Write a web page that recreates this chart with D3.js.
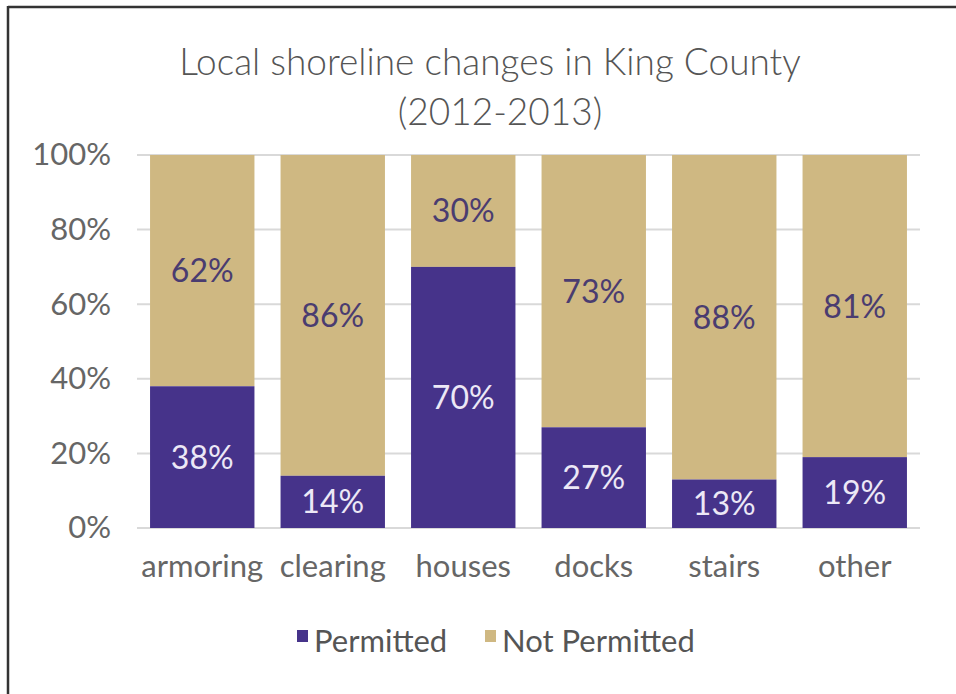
<!DOCTYPE html>
<html>
<head>
<meta charset="utf-8">
<script src="https://cdn.jsdelivr.net/npm/d3@7"></script>
<style>
  body { margin: 0; background: #fff; }
  svg text { font-family: Lato, "DejaVu Sans", sans-serif; }
</style>
</head>
<body>
<svg id="chart"></svg>
<script>
var categories = ["armoring", "clearing", "houses", "docks", "stairs", "other"];
var permitted = [38, 14, 70, 27, 13, 19];
var notPermitted = [62, 86, 30, 73, 88, 81];
var seriesNames = ["Permitted", "Not Permitted"];
var yTicks = [0, 20, 40, 60, 80, 100];

var width = 956;
var height = 694;

var purple = "#46338a";
var tan = "#cfb882";

var svg = d3.select("#chart")
	.attr("width", width)
	.attr("height", height);

// frame (top + left edges visible in the reference)
svg.append("line").attr("x1", 8).attr("x2", width).attr("y1", 7).attr("y2", 7)
	.style("stroke", "#333").style("stroke-width", 2.5);
svg.append("line").attr("x1", 8).attr("x2", 8).attr("y1", 6).attr("y2", height)
	.style("stroke", "#333").style("stroke-width", 2.5);

var x = d3.scaleBand()
	.domain(categories)
	.range([137, 920])
	.paddingInner(0.2)
	.paddingOuter(0.1);

var y = d3.scaleLinear()
	.domain([0, 100])
	.range([528, 155]);

// title
svg.append("text")
	.attr("x", 490).attr("y", 75)
	.attr("text-anchor", "middle")
	.style("font-size", "37px").style("font-weight", 300).style("fill", "#555")
	.text("Local shoreline changes in King County");
svg.append("text")
	.attr("x", 500).attr("y", 125)
	.attr("text-anchor", "middle")
	.style("font-size", "37px").style("font-weight", 300).style("fill", "#555")
	.text("(2012-2013)");

// gridlines
svg.selectAll("line.grid")
	.data(yTicks)
	.enter()
	.append("line")
	.attr("class", "grid")
	.attr("x1", 137).attr("x2", 920)
	.attr("y1", function(d) { return y(d); })
	.attr("y2", function(d) { return y(d); })
	.style("stroke", "#d9d9d9").style("stroke-width", 2);

// y axis labels
var yAxis = d3.axisLeft(y).tickValues(yTicks).tickSize(0).tickPadding(0)
	.tickFormat(function(d) { return d + "%"; });
svg.append("g")
	.attr("transform", "translate(111,0)")
	.call(yAxis)
	.call(function(g) { g.select(".domain").remove(); })
	.selectAll("text")
	.style("font-size", "31px").style("fill", "#666")
	.style("font-family", "Lato, 'DejaVu Sans', sans-serif");

// x axis labels
var xAxis = d3.axisBottom(x).tickSize(0).tickPadding(0);
svg.append("g")
	.attr("transform", "translate(0,555)")
	.call(xAxis)
	.call(function(g) { g.select(".domain").remove(); })
	.selectAll("text")
	.style("font-size", "31px").style("fill", "#666")
	.style("font-family", "Lato, 'DejaVu Sans', sans-serif");

var rows = categories.map(function(c, i) {
	return { cat: c, p: permitted[i], n: notPermitted[i] };
});

// Not permitted (top part)
svg.selectAll("rect.np")
	.data(rows)
	.enter()
	.append("rect")
	.attr("class", "np")
	.attr("x", function(d) { return x(d.cat); })
	.attr("width", x.bandwidth())
	.attr("y", y(100))
	.attr("height", function(d) { return y(d.p) - y(100); })
	.style("fill", tan);

// Permitted (bottom part)
svg.selectAll("rect.p")
	.data(rows)
	.enter()
	.append("rect")
	.attr("class", "p")
	.attr("x", function(d) { return x(d.cat); })
	.attr("width", x.bandwidth())
	.attr("y", function(d) { return y(d.p); })
	.attr("height", function(d) { return y(0) - y(d.p); })
	.style("fill", purple);

// labels
svg.selectAll("text.lp")
	.data(rows)
	.enter()
	.append("text")
	.attr("class", "lp")
	.attr("x", function(d) { return x(d.cat) + x.bandwidth() / 2; })
	.attr("y", function(d) { return (y(0) + y(d.p)) / 2; })
	.attr("dy", "0.36em")
	.attr("text-anchor", "middle")
	.style("font-size", "32px").style("fill", "#ece8f6")
	.text(function(d) { return d.p + "%"; });

svg.selectAll("text.ln")
	.data(rows)
	.enter()
	.append("text")
	.attr("class", "ln")
	.attr("x", function(d) { return x(d.cat) + x.bandwidth() / 2; })
	.attr("y", function(d) { return (y(100) + y(d.p)) / 2; })
	.attr("dy", "0.36em")
	.attr("text-anchor", "middle")
	.style("font-size", "32px").style("fill", "#4a3c70")
	.text(function(d) { return d.n + "%"; });

// legend
var legendX = [297, 485];
var legendColors = [purple, tan];
var legend = svg.selectAll("g.legend")
	.data(seriesNames)
	.enter()
	.append("g")
	.attr("class", "legend")
	.attr("transform", function(d, i) { return "translate(" + legendX[i] + ",0)"; });
legend.append("rect")
	.attr("x", 0).attr("y", 630)
	.attr("width", 11).attr("height", 12)
	.style("fill", function(d, i) { return legendColors[i]; });
legend.append("text")
	.attr("x", 17).attr("y", 652)
	.style("font-size", "31px").style("fill", "#555")
	.text(function(d) { return d; });
</script>
</body>
</html>
